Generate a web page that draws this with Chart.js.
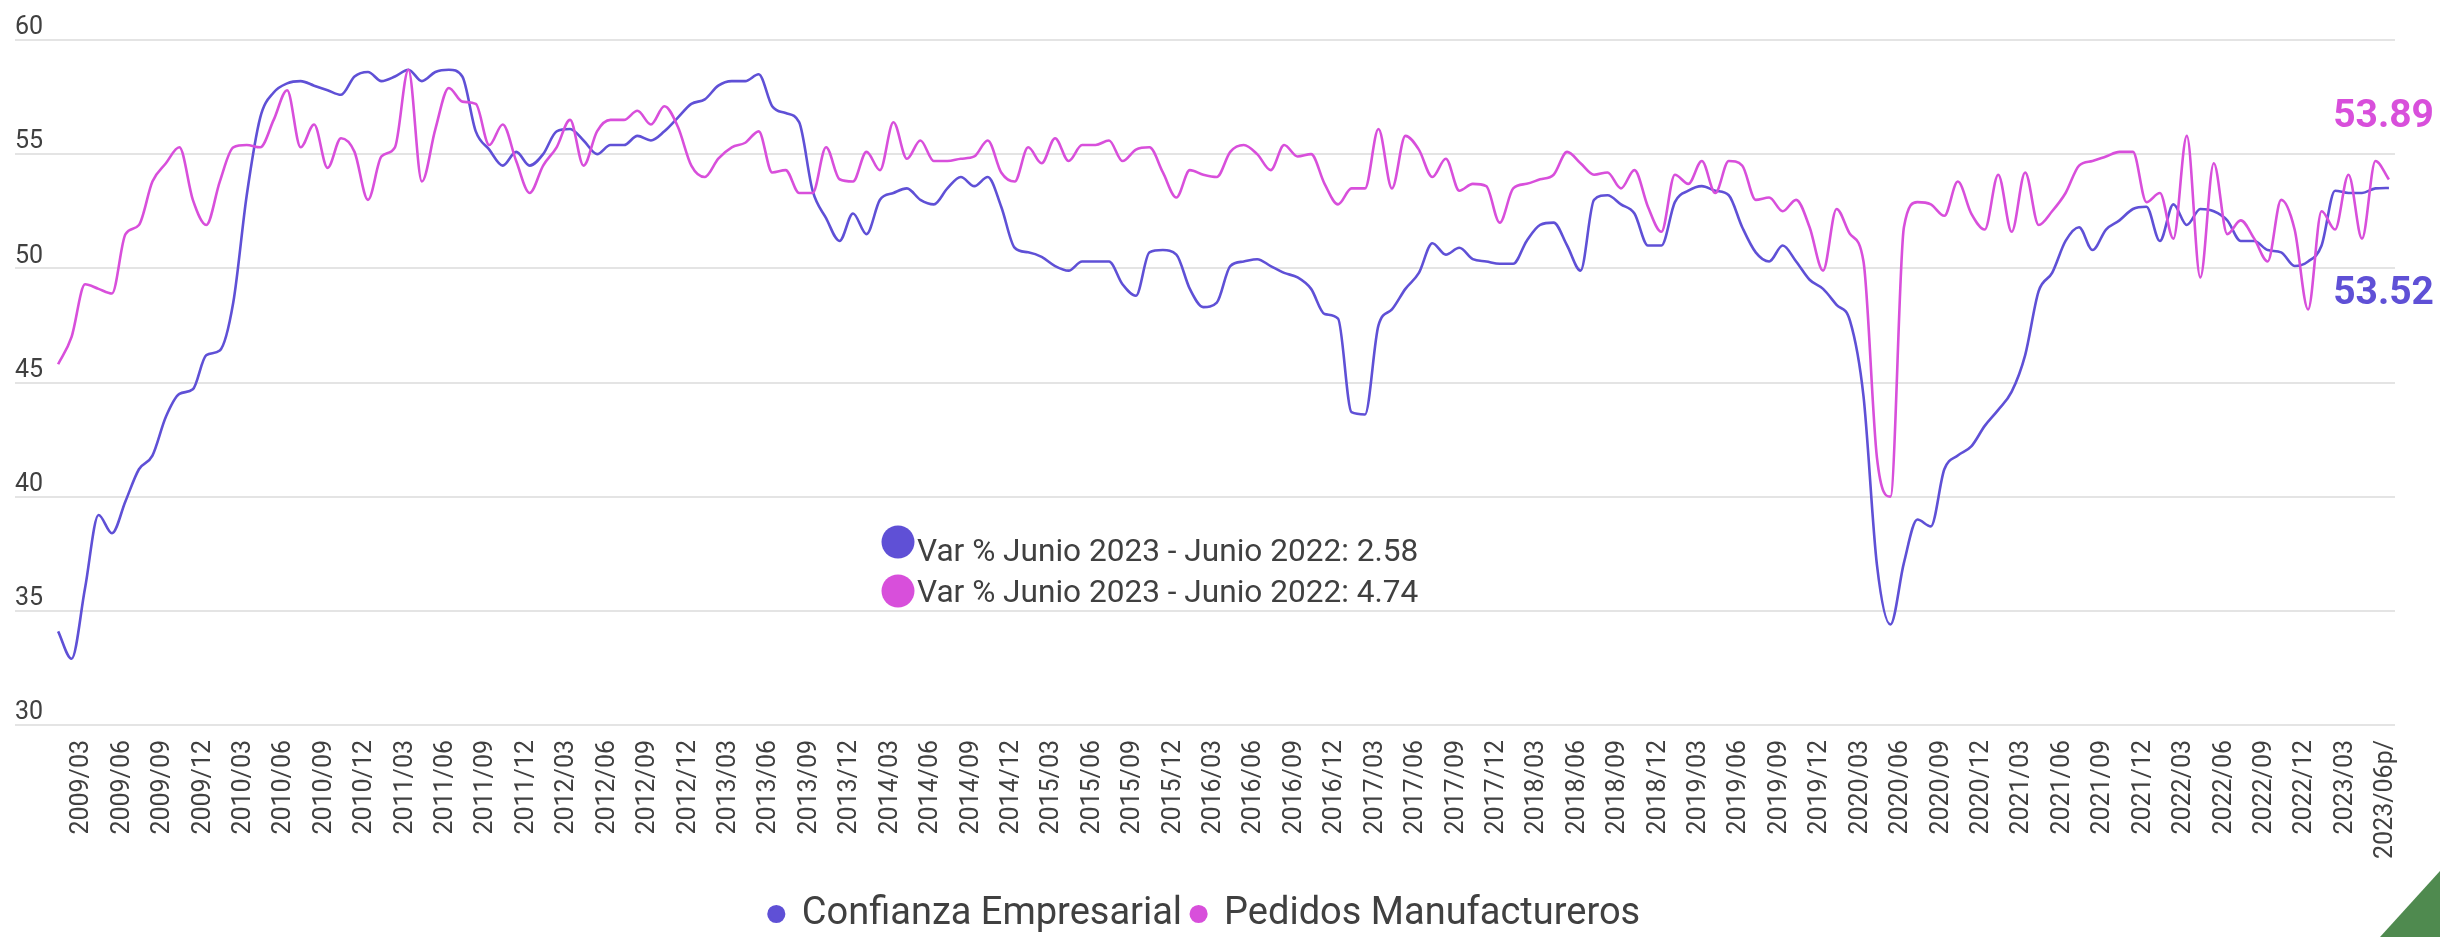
<!DOCTYPE html>
<html lang="es">
<head>
  <meta charset="UTF-8">
  <title>Confianza Empresarial y Pedidos Manufactureros</title>
  <script src="https://cdn.jsdelivr.net/npm/chart.js"></script>
  <style>
    html, body { margin: 0; padding: 0; background: #fff; overflow: hidden; }
    #wrap { position: relative; width: 2440px; height: 937px; }
    /* green corner mark, bottom right */
    #corner {
      position: absolute; right: 0; bottom: 0; width: 60px; height: 66px;
      background: #4f8a4f; clip-path: polygon(100% 0, 100% 100%, 0 100%);
    }
  </style>
</head>
<body>
  <div id="wrap">
    <canvas id="chart" width="2440" height="937"></canvas>
    <div id="corner"></div>
  </div>

  <script>
    // axis labels, one every quarter, last one is the preliminary month
    const tickLabels = [
      '2009/03', '2009/06', '2009/09', '2009/12', '2010/03', '2010/06', '2010/09', '2010/12',
      '2011/03', '2011/06', '2011/09', '2011/12', '2012/03', '2012/06', '2012/09', '2012/12',
      '2013/03', '2013/06', '2013/09', '2013/12', '2014/03', '2014/06', '2014/09', '2014/12',
      '2015/03', '2015/06', '2015/09', '2015/12', '2016/03', '2016/06', '2016/09', '2016/12',
      '2017/03', '2017/06', '2017/09', '2017/12', '2018/03', '2018/06', '2018/09', '2018/12',
      '2019/03', '2019/06', '2019/09', '2019/12', '2020/03', '2020/06', '2020/09', '2020/12',
      '2021/03', '2021/06', '2021/09', '2021/12', '2022/03', '2022/06', '2022/09', '2022/12',
      '2023/03', '2023/06p/'
    ];
    // month index of each label (2009/01 = 0)
    const tickMonths = [
      2, 5, 8, 11, 14, 17, 20, 23, 26, 29, 32, 35, 38, 41, 44, 47, 50, 53, 56, 59,
      62, 65, 68, 71, 74, 77, 80, 83, 86, 89, 92, 95, 98, 101, 104, 107, 110, 113, 116, 119,
      122, 125, 128, 131, 134, 137, 140, 143, 146, 149, 152, 155, 158, 161, 164, 167, 170, 173
    ];

    // monthly values, 2009/01 to 2023/06
    const confianza = [
      34.1, 32.9, 36.0, 39.2, 38.4, 39.8, 41.2, 41.8, 43.5, 44.5, 44.7, 46.2,
      46.4, 48.5, 53.2, 56.6, 57.7, 58.1, 58.2, 58.0, 57.8, 57.6, 58.4, 58.6,
      58.2, 58.4, 58.7, 58.2, 58.6, 58.7, 58.4, 56.0, 55.2, 54.5, 55.1, 54.5,
      55.0, 56.0, 56.1, 55.6, 55.0, 55.4, 55.4, 55.8, 55.6, 56.0, 56.6, 57.2,
      57.4, 58.0, 58.2, 58.2, 58.5, 57.1, 56.8, 56.4, 53.4, 52.2, 51.2, 52.4,
      51.5, 53.0, 53.3, 53.5, 53.0, 52.8, 53.5, 54.0, 53.6, 54.0, 52.7, 50.9,
      50.7, 50.5, 50.1, 49.9, 50.3, 50.3, 50.3, 49.3, 48.8, 50.7, 50.8, 50.6,
      49.1, 48.3, 48.5, 50.1, 50.3, 50.4, 50.1, 49.8, 49.6, 49.1, 48.0, 47.8,
      43.7, 43.6, 47.5, 48.2, 49.1, 49.8, 51.1, 50.6, 50.9, 50.4, 50.3, 50.2,
      50.2, 51.2, 51.9, 52.0, 51.0, 49.9, 53.0, 53.2, 52.8, 52.4, 51.0, 51.0,
      52.9, 53.4, 53.6, 53.4, 53.2, 51.8, 50.7, 50.3, 51.0, 50.3, 49.5, 49.1,
      48.4, 47.7, 44.4, 37.0, 34.4, 37.1, 39.0, 38.7, 41.2, 41.8, 42.2, 43.1,
      43.8, 44.6, 46.2, 49.0, 49.8, 51.2, 51.8, 50.8, 51.7, 52.1, 52.6, 52.7,
      51.2, 52.8, 51.9, 52.6, 52.5, 52.1, 51.2, 51.2, 50.8, 50.7, 50.1, 50.3,
      51.0, 53.4, 53.3, 53.3, 53.5, 53.52
    ];
    const pedidos = [
      45.8, 47.0, 49.3, 49.1, 48.9, 51.5, 51.9, 53.8, 54.6, 55.3, 53.0, 51.9,
      53.8, 55.3, 55.4, 55.3, 56.5, 57.8, 55.3, 56.3, 54.4, 55.7, 55.1, 53.0,
      54.9, 55.3, 58.7, 53.8, 56.1, 57.9, 57.3, 57.2, 55.4, 56.3, 54.7, 53.3,
      54.5, 55.3, 56.5, 54.5, 56.0, 56.5, 56.5, 56.9, 56.3, 57.1, 56.2, 54.5,
      54.0, 54.8, 55.3, 55.5, 56.0, 54.2, 54.3, 53.3, 53.3, 55.3, 53.9, 53.8,
      55.1, 54.3, 56.4, 54.8, 55.6, 54.7, 54.7, 54.8, 54.9, 55.6, 54.2, 53.8,
      55.3, 54.6, 55.7, 54.7, 55.4, 55.4, 55.6, 54.7, 55.2, 55.3, 54.2, 53.1,
      54.3, 54.1, 54.0, 55.1, 55.4, 55.0, 54.3, 55.4, 54.9, 55.0, 53.7, 52.8,
      53.5, 53.5, 56.1, 53.5, 55.8, 55.2, 54.0, 54.8, 53.4, 53.7, 53.6, 52.0,
      53.5, 53.7, 53.9, 54.1, 55.1, 54.6, 54.1, 54.2, 53.5, 54.3, 52.7, 51.6,
      54.1, 53.7, 54.7, 53.3, 54.7, 54.5, 53.0, 53.1, 52.5, 53.0, 51.8, 49.9,
      52.6, 51.5, 50.3, 41.7, 40.0, 51.8, 52.9, 52.8, 52.3, 53.8, 52.4, 51.7,
      54.1, 51.6, 54.2, 51.9, 52.5, 53.3, 54.5, 54.7, 54.9, 55.1, 55.1, 52.9,
      53.3, 51.3, 55.8, 49.6, 54.6, 51.5, 52.1, 51.3, 50.3, 53.0, 51.7, 48.2,
      52.5, 51.7, 54.1, 51.3, 54.7, 53.89
    ];

    // year-on-year change, June 2023 vs June 2022
    const varConfianza = 2.58;
    const varPedidos = 4.74;

    const PURPLE = '#5f50d6';
    const MAGENTA = '#d84fdb';
    const TEXT = '#404040';

    Chart.defaults.font.family = 'Roboto, "Noto Sans", sans-serif';
    Chart.defaults.color = TEXT;

    // last value written next to the end of each line, plus the two "Var %" notes
    const notesPlugin = {
      id: 'notes',
      afterDraw(chart) {
        const ctx = chart.ctx;
        const area = chart.chartArea;
        ctx.save();

        // end labels: purple one below its line, magenta one above
        ctx.font = 'bold 39px Roboto';
        ctx.textAlign = 'right';
        ctx.textBaseline = 'middle';
        const endOffsets = [106, -62];
        chart.data.datasets.forEach((ds, i) => {
          const meta = chart.getDatasetMeta(i);
          const last = meta.data[meta.data.length - 1];
          ctx.fillStyle = ds.borderColor;
          ctx.fillText(ds.data[ds.data.length - 1].y.toFixed(2), 2434, last.y + endOffsets[i]);
        });

        // variation notes
        const notes = [
          { color: PURPLE, text: 'Var % Junio 2023 - Junio 2022: ' + varConfianza.toFixed(2), textY: 513, dotY: 502 },
          { color: MAGENTA, text: 'Var % Junio 2023 - Junio 2022: ' + varPedidos.toFixed(2), textY: 554, dotY: 551 }
        ];
        ctx.font = '31.6px Roboto';
        ctx.textAlign = 'left';
        notes.forEach(n => {
          ctx.fillStyle = n.color;
          ctx.beginPath();
          ctx.arc(area.left + 883, area.top + n.dotY, 16.5, 0, Math.PI * 2);
          ctx.fill();
          ctx.fillStyle = TEXT;
          ctx.fillText(n.text, area.left + 902, area.top + n.textY);
        });
        ctx.restore();
      }
    };

    const toPoints = arr => arr.map((v, i) => ({ x: i, y: v }));

    new Chart(document.getElementById('chart'), {
      type: 'line',
      data: {
        datasets: [
          {
            label: 'Confianza Empresarial',
            data: toPoints(confianza),
            borderColor: PURPLE,
            backgroundColor: PURPLE,
            borderWidth: 2.6,
            pointRadius: 0,
            cubicInterpolationMode: 'monotone',
            order: 2
          },
          {
            label: 'Pedidos Manufactureros',
            data: toPoints(pedidos),
            borderColor: MAGENTA,
            backgroundColor: MAGENTA,
            borderWidth: 2.6,
            pointRadius: 0,
            cubicInterpolationMode: 'monotone',
            order: 1
          }
        ]
      },
      options: {
        responsive: false,
        animation: false,
        layout: { padding: { top: 40, left: 15, right: 45, bottom: -6 } },
        plugins: {
          tooltip: { enabled: false },
          legend: {
            position: 'bottom',
            labels: {
              usePointStyle: true,
              pointStyle: 'circle',
              boxWidth: 13,
              boxHeight: 11,
              padding: 10,
              color: TEXT,
              font: { size: 38 },
              sort: (a, b) => a.datasetIndex - b.datasetIndex
            }
          }
        },
        scales: {
          x: {
            type: 'linear',
            min: -3.2,
            max: 173.45,
            grid: { display: false },
            border: { display: false },
            afterBuildTicks: scale => {
              scale.ticks = tickMonths.map(m => ({ value: m }));
            },
            afterFit: scale => {
              scale.height = 160;
              scale.paddingLeft = 0;
              scale.paddingRight = 0;
            },
            ticks: {
              autoSkip: false,
              minRotation: 90,
              maxRotation: 90,
              padding: 7,
              labelOffset: -3,
              color: TEXT,
              font: { size: 25 },
              callback: (value, index) => tickLabels[index]
            }
          },
          y: {
            min: 30,
            max: 60,
            grid: { color: '#e4e4e4', lineWidth: 2, drawTicks: false },
            border: { display: false },
            afterFit: scale => {
              scale.paddingTop = 0;
              scale.paddingBottom = 0;
            },
            ticks: {
              stepSize: 5,
              mirror: true,
              padding: 0,
              labelOffset: -12,
              color: TEXT,
              font: { size: 25 }
            }
          }
        }
      },
      plugins: [notesPlugin]
    });
  </script>
</body>
</html>
